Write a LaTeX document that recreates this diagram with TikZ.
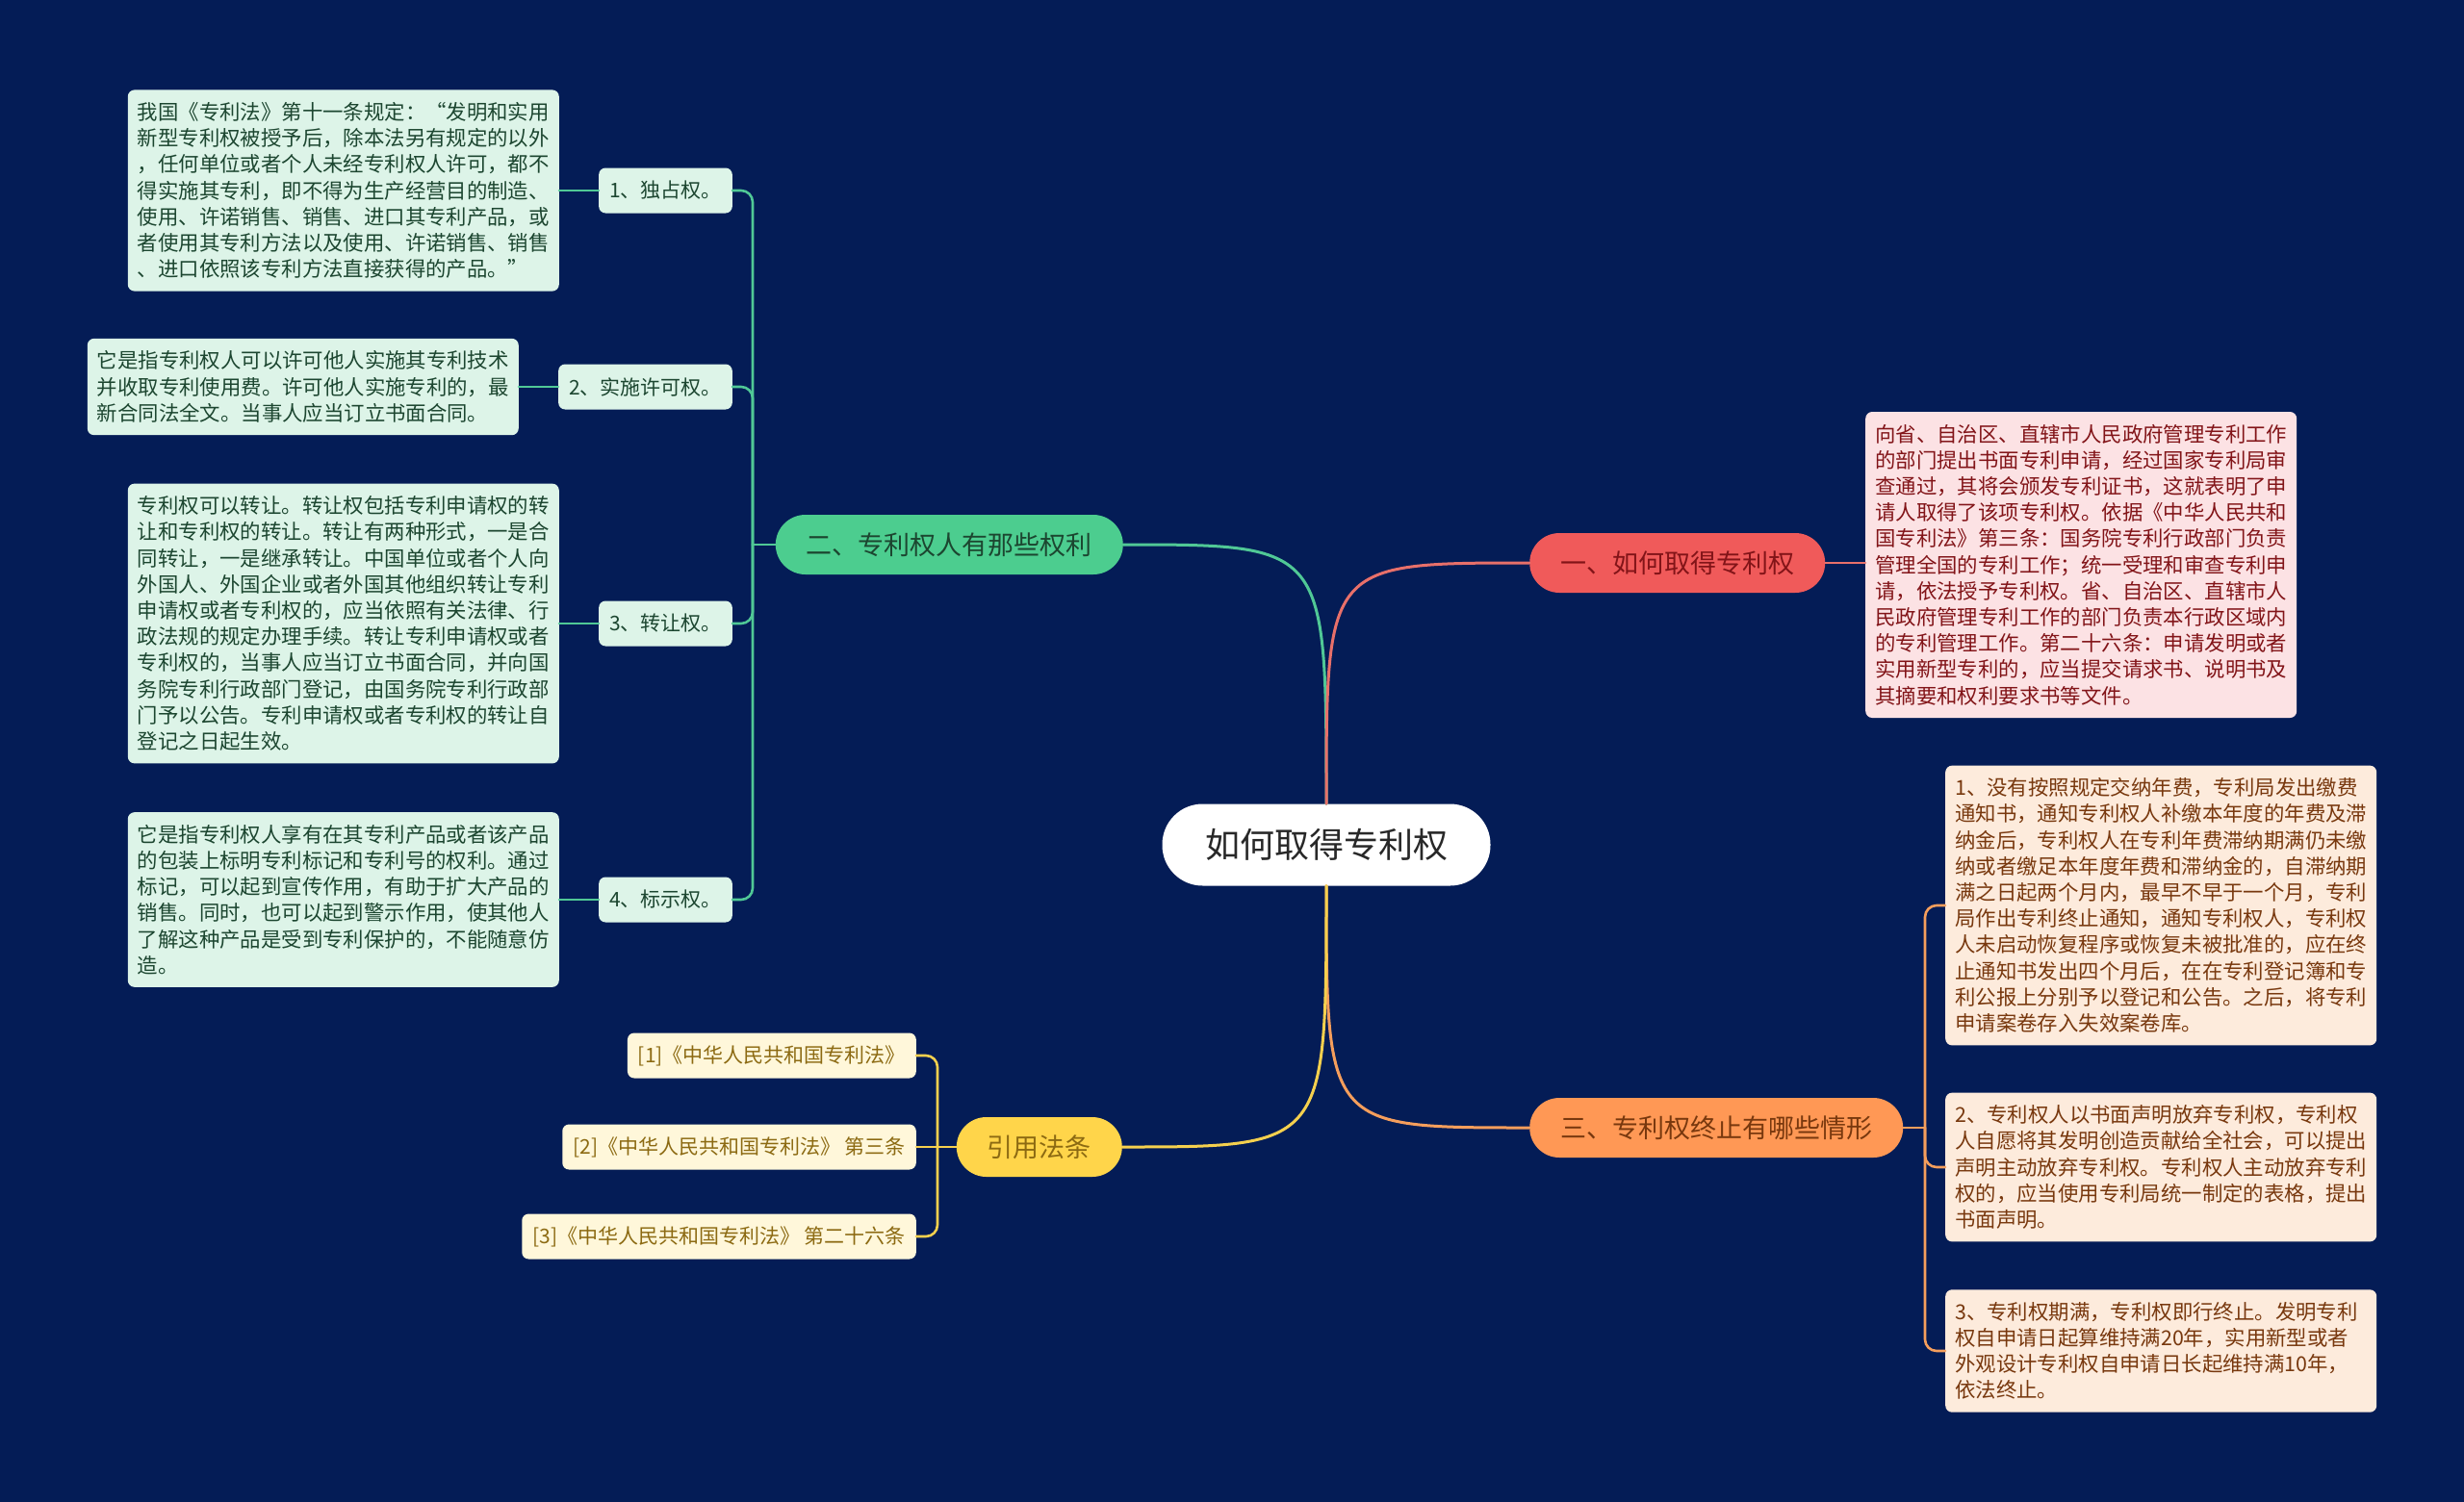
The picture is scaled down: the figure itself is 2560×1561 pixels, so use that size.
\documentclass[tikz,border=0pt]{standalone}
\usepackage{fontspec}
\setmainfont{Noto Sans CJK SC}
\definecolor{bgnavy}{RGB}{4,28,86}
\definecolor{rootink}{RGB}{40,40,40}
\definecolor{greentopic}{RGB}{76,205,143}
\definecolor{greenleaf}{RGB}{221,244,232}
\definecolor{greenink}{RGB}{28,70,48}
\definecolor{greenline}{RGB}{80,200,150}
\definecolor{redtopic}{RGB}{240,90,90}
\definecolor{redleaf}{RGB}{252,226,228}
\definecolor{redink}{RGB}{130,20,24}
\definecolor{redline}{RGB}{232,112,106}
\definecolor{orangetopic}{RGB}{255,152,85}
\definecolor{orangeleaf}{RGB}{253,235,220}
\definecolor{orangeink}{RGB}{120,56,14}
\definecolor{orangeline}{RGB}{245,158,92}
\definecolor{yellowtopic}{RGB}{255,213,74}
\definecolor{yellowleaf}{RGB}{255,247,218}
\definecolor{yellowink}{RGB}{140,106,18}
\definecolor{yellowline}{RGB}{245,208,78}
\usetikzlibrary{positioning}

\tikzset{
  topic/.style={rounded corners=31pt, minimum height=62pt, inner xsep=32pt, font=\fontsize{27}{32}\selectfont},
  leaf/.style={rounded corners=7pt, inner xsep=10pt, inner ysep=13pt, text width=428pt, align=left, font=\fontsize{21.4}{27.2}\selectfont},
  tag/.style={rounded corners=7pt, minimum height=47pt, inner xsep=11pt, font=\fontsize{21}{25}\selectfont},
  link/.style={line width=3pt, line cap=round},
  twig/.style={line width=2.6pt, line cap=round},
}

\begin{document}
\begin{tikzpicture}[x=1pt, y=-1pt]
  \fill[bgnavy] (0,0) rectangle (2560,1561);
  \useasboundingbox (0,0) rectangle (2560,1561);

  % centre and main topics
  \node[fill=white, rounded corners=42pt, minimum width=341pt, minimum height=85pt, text=rootink, font=\fontsize{36}{40}\selectfont] (root) at (1378,878) {如何取得专利权};
  \node[topic, fill=redtopic, text=redink, anchor=west] (get) at (1589,585) {一、如何取得专利权};
  \node[topic, fill=greentopic, text=greenink, anchor=east] (rights) at (1167,566) {二、专利权人有那些权利};
  \node[topic, fill=orangetopic, text=orangeink, anchor=west] (ends) at (1589,1172) {三、专利权终止有哪些情形};
  \node[topic, fill=yellowtopic, text=yellowink, anchor=east] (laws) at (1166,1192) {引用法条};

  % 二
  \node[tag, fill=greenleaf, text=greenink, anchor=east] (r1) at (761,198) {1、独占权。};
  \node[tag, fill=greenleaf, text=greenink, anchor=east] (r2) at (761,402) {2、实施许可权。};
  \node[tag, fill=greenleaf, text=greenink, anchor=east] (r3) at (761,648) {3、转让权。};
  \node[tag, fill=greenleaf, text=greenink, anchor=east] (r4) at (761,935) {4、标示权。};

  \node[leaf, fill=greenleaf, text=greenink, anchor=east] (r1-text) at (581,198) {我国《专利法》第十一条规定：“发明和实用\\新型专利权被授予后，除本法另有规定的以外\\，任何单位或者个人未经专利权人许可，都不\\得实施其专利，即不得为生产经营目的制造、\\使用、许诺销售、销售、进口其专利产品，或\\者使用其专利方法以及使用、许诺销售、销售\\、进口依照该专利方法直接获得的产品。”};
  \node[leaf, fill=greenleaf, text=greenink, anchor=east] (r2-text) at (539,402) {它是指专利权人可以许可他人实施其专利技术\\并收取专利使用费。许可他人实施专利的，最\\新合同法全文。当事人应当订立书面合同。};
  \node[leaf, fill=greenleaf, text=greenink, anchor=east] (r3-text) at (581,648) {专利权可以转让。转让权包括专利申请权的转\\让和专利权的转让。转让有两种形式，一是合\\同转让，一是继承转让。中国单位或者个人向\\外国人、外国企业或者外国其他组织转让专利\\申请权或者专利权的，应当依照有关法律、行\\政法规的规定办理手续。转让专利申请权或者\\专利权的，当事人应当订立书面合同，并向国\\务院专利行政部门登记，由国务院专利行政部\\门予以公告。专利申请权或者专利权的转让自\\登记之日起生效。};
  \node[leaf, fill=greenleaf, text=greenink, anchor=east] (r4-text) at (581,935) {它是指专利权人享有在其专利产品或者该产品\\的包装上标明专利标记和专利号的权利。通过\\标记，可以起到宣传作用，有助于扩大产品的\\销售。同时，也可以起到警示作用，使其他人\\了解这种产品是受到专利保护的，不能随意仿\\造。};

  % 一
  \node[leaf, fill=redleaf, text=redink, anchor=west] (get-text) at (1938,587) {向省、自治区、直辖市人民政府管理专利工作\\的部门提出书面专利申请，经过国家专利局审\\查通过，其将会颁发专利证书，这就表明了申\\请人取得了该项专利权。依据《中华人民共和\\国专利法》第三条：国务院专利行政部门负责\\管理全国的专利工作；统一受理和审查专利申\\请，依法授予专利权。省、自治区、直辖市人\\民政府管理专利工作的部门负责本行政区域内\\的专利管理工作。第二十六条：申请发明或者\\实用新型专利的，应当提交请求书、说明书及\\其摘要和权利要求书等文件。};

  % 三
  \node[leaf, fill=orangeleaf, text=orangeink, anchor=west] (e1) at (2021,941) {1、没有按照规定交纳年费，专利局发出缴费\\通知书，通知专利权人补缴本年度的年费及滞\\纳金后，专利权人在专利年费滞纳期满仍未缴\\纳或者缴足本年度年费和滞纳金的，自滞纳期\\满之日起两个月内，最早不早于一个月，专利\\局作出专利终止通知，通知专利权人，专利权\\人未启动恢复程序或恢复未被批准的，应在终\\止通知书发出四个月后，在在专利登记簿和专\\利公报上分别予以登记和公告。之后，将专利\\申请案卷存入失效案卷库。};
  \node[leaf, fill=orangeleaf, text=orangeink, anchor=west] (e2) at (2021,1213) {2、专利权人以书面声明放弃专利权，专利权\\人自愿将其发明创造贡献给全社会，可以提出\\声明主动放弃专利权。专利权人主动放弃专利\\权的，应当使用专利局统一制定的表格，提出\\书面声明。};
  \node[leaf, fill=orangeleaf, text=orangeink, anchor=west] (e3) at (2021,1404) {3、专利权期满，专利权即行终止。发明专利\\权自申请日起算维持满20年，实用新型或者\\外观设计专利权自申请日长起维持满10年，\\依法终止。};

  % 引用法条
  \node[tag, fill=yellowleaf, text=yellowink, anchor=east] (law1) at (952,1097) {[1]《中华人民共和国专利法》};
  \node[tag, fill=yellowleaf, text=yellowink, anchor=east] (law2) at (952,1192) {[2]《中华人民共和国专利法》 第三条};
  \node[tag, fill=yellowleaf, text=yellowink, anchor=east] (law3) at (952,1285) {[3]《中华人民共和国专利法》 第二十六条};

  % connectors
  \draw[link, greenline] (root.north) .. controls (root.north |- rights.east) .. (rights.east);
  \draw[link, redline] (root.north) .. controls (root.north |- get.west) .. (get.west);
  \draw[link, orangeline] (root.south) .. controls (root.south |- ends.west) .. (ends.west);
  \draw[link, yellowline] (root.south) .. controls (root.south |- laws.east) .. (laws.east);

  \coordinate (rj) at (782,566);
  \draw[twig, greenline] (rights.west) -- (rj);
  \foreach \k in {r1,r2,r3,r4} {
    \draw[twig, greenline, rounded corners=12pt] (rj) -- (rj |- \k.east) -- (\k.east);
    \draw[twig, greenline] (\k.west) -- (\k-text.east);
  }

  \draw[twig, redline] (get.east) -- (get.east -| get-text.west);

  \coordinate (ej) at (2000,1172);
  \draw[twig, orangeline] (ends.east) -- (ej);
  \foreach \k in {e1,e2,e3}
    \draw[twig, orangeline, rounded corners=12pt] (ej) -- (ej |- \k.west) -- (\k.west);

  \coordinate (lj) at (974,1192);
  \draw[twig, yellowline] (laws.west) -- (lj) -- (law2.east);
  \foreach \k in {law1,law3}
    \draw[twig, yellowline, rounded corners=12pt] (lj) -- (lj |- \k.east) -- (\k.east);
\end{tikzpicture}
\end{document}
